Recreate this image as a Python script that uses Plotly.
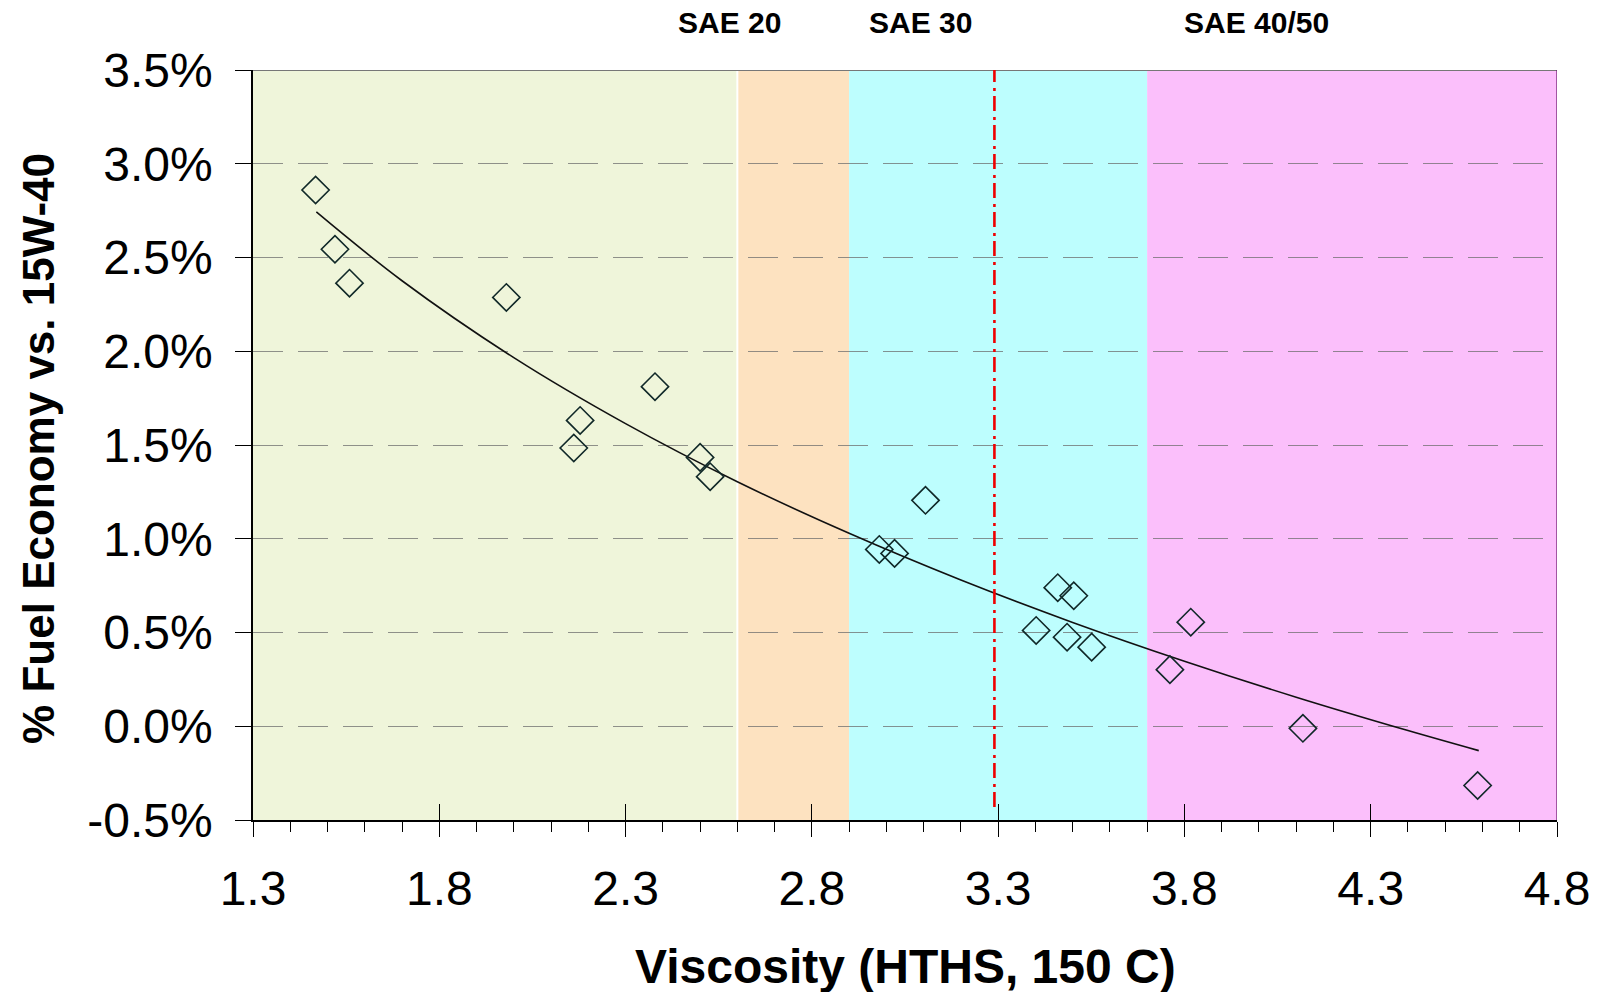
import plotly.graph_objects as go

# Data
visc = [1.468, 1.520, 1.559, 1.980, 2.379, 2.178, 2.161, 2.500, 2.527,
        3.105, 2.981, 3.022, 3.460, 3.503, 3.402, 3.485, 3.551, 3.817, 3.761, 4.118, 4.587]
fuel = [2.86, 2.544, 2.363, 2.287, 1.811, 1.631, 1.484, 1.434, 1.331,
        1.205, 0.943, 0.922, 0.739, 0.696, 0.511, 0.475, 0.422, 0.555, 0.302, -0.011, -0.316]

trend_x = [1.47, 1.7, 2.0, 2.3, 2.6, 2.9, 3.2, 3.5, 3.8, 4.1, 4.4, 4.59]
trend_y = [2.743, 2.376, 1.966, 1.614, 1.304, 1.029, 0.780, 0.554, 0.347, 0.155, -0.023, -0.130]

y_tickvals = [-0.5, 0.0, 0.5, 1.0, 1.5, 2.0, 2.5, 3.0, 3.5]
y_ticktext = ["-0.5%", "0.0%", "0.5%", "1.0%", "1.5%", "2.0%", "2.5%", "3.0%", "3.5%"]
x_tickvals = [1.3, 1.8, 2.3, 2.8, 3.3, 3.8, 4.3, 4.8]
x_ticktext = ["1.3", "1.8", "2.3", "2.8", "3.3", "3.8", "4.3", "4.8"]

band_edges = [1.3, 2.6, 2.9, 3.7, 4.8]
band_colors = ["#EFF5DA", "#FDE2C0", "#BDFEFE", "#FBBFFB"]
sae_labels = ["SAE 20", "SAE 30", "SAE 40/50"]
sae_label_x = [2.58, 3.091, 3.994]
ref_line_x = 3.29

FONT = "Liberation Sans, Arial, sans-serif"

fig = go.Figure()

fig.add_trace(go.Scatter(x=trend_x, y=trend_y, mode="lines",
                         line=dict(color="#111111", width=1.6, shape="spline"),
                         showlegend=False, hoverinfo="skip"))
fig.add_trace(go.Scatter(x=visc, y=fuel, mode="markers",
                         marker=dict(symbol="diamond-open", size=21, color="#102828",
                                     line=dict(color="#102828", width=1.6)),
                         showlegend=False))
# invisible trace for the overlay axis carrying inside major ticks
fig.add_trace(go.Scatter(x=[1.3], y=[0], xaxis="x2", mode="markers",
                         marker=dict(opacity=0), showlegend=False, hoverinfo="skip"))

shapes = []
for i, c in enumerate(band_colors):
    shapes.append(dict(type="rect", xref="x", yref="y", x0=band_edges[i], x1=band_edges[i + 1],
                       y0=-0.5, y1=3.5, fillcolor=c, line=dict(width=0), layer="below"))
shapes.append(dict(type="line", xref="x", yref="y", x0=band_edges[1], x1=band_edges[1],
                   y0=-0.5, y1=3.5, line=dict(color="white", width=2), layer="below"))
# top border and right border
shapes.append(dict(type="line", xref="x", yref="y", x0=1.3, x1=4.8, y0=3.5, y1=3.5,
                   line=dict(color="#777777", width=2)))
shapes.append(dict(type="line", xref="x", yref="y", x0=4.8, x1=4.8, y0=-0.5, y1=3.5,
                   line=dict(color="#6a106a", width=1.2)))
# red reference line
shapes.append(dict(type="line", xref="x", yref="y", x0=ref_line_x, x1=ref_line_x,
                   y0=-0.43, y1=3.53,
                   line=dict(color="#EE0000", width=2.6, dash="15px,5px,3px,6px")))

annotations = []
for t, xv in zip(sae_labels, sae_label_x):
    annotations.append(dict(text="<b>%s</b>" % t, x=xv, xref="x", y=1.063, yref="paper",
                            showarrow=False, xanchor="center", yanchor="middle",
                            font=dict(family=FONT, size=30, color="black")))
annotations.append(dict(text="<b>Viscosity (HTHS, 150 C)</b>", x=0.5, xref="paper",
                        y=-0.195, yref="paper", showarrow=False, xanchor="center",
                        yanchor="middle", font=dict(family=FONT, size=48, color="black")))
annotations.append(dict(text="<b>% Fuel Economy vs. 15W-40</b>", x=-0.164, xref="paper",
                        y=0.495, yref="paper", showarrow=False, xanchor="center",
                        yanchor="middle", textangle=-90,
                        font=dict(family=FONT, size=44, color="black")))

fig.update_layout(
    width=1607, height=992,
    margin=dict(l=253, r=50, t=70, b=172),
    paper_bgcolor="white", plot_bgcolor="white",
    showlegend=False,
    shapes=shapes, annotations=annotations,
    xaxis=dict(range=[1.3, 4.8], tickmode="array", tickvals=x_tickvals, ticktext=x_ticktext,
               ticks="outside", ticklen=15, tickcolor="black", tickwidth=1.2,
               showgrid=False, zeroline=False, showline=True, linecolor="black", linewidth=1.5,
               tickfont=dict(family=FONT, size=48, color="black"),
               ticklabelstandoff=11,
               minor=dict(dtick=0.1, tick0=1.3, ticks="outside", ticklen=10,
                          tickcolor="black", tickwidth=1.2, showgrid=False)),
    xaxis2=dict(range=[1.3, 4.8], overlaying="x", anchor="y", side="bottom",
                tickmode="array", tickvals=x_tickvals, ticks="inside", ticklen=16,
                tickcolor="black", tickwidth=1.2, showticklabels=False, showgrid=False,
                zeroline=False, showline=False),
    yaxis=dict(range=[-0.5, 3.5], tickmode="array", tickvals=y_tickvals, ticktext=y_ticktext,
               ticks="outside", ticklen=16, tickcolor="black", tickwidth=1.2,
               showgrid=True, gridcolor="rgba(110,110,110,0.75)", gridwidth=1.2,
               griddash="30px,15px", zeroline=False,
               showline=True, linecolor="black", linewidth=1.5,
               tickfont=dict(family=FONT, size=48, color="black"),
               ticklabelstandoff=13),
)

fig.write_html("out.html")
